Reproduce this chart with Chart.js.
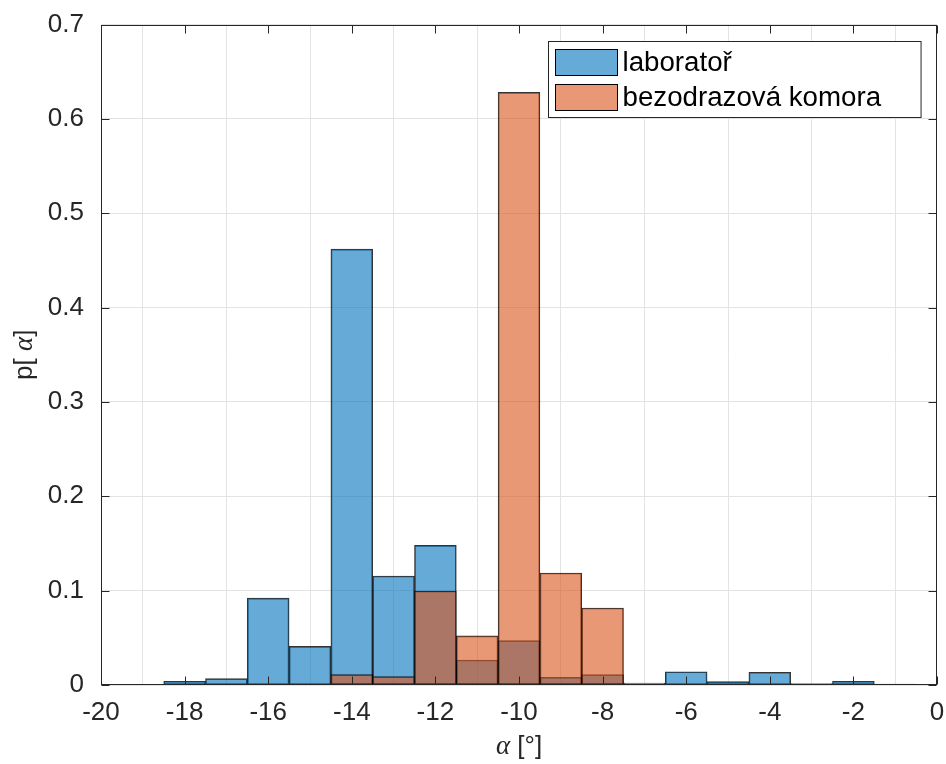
<!DOCTYPE html>
<html>
<head>
<meta charset="utf-8">
<script src="https://cdn.jsdelivr.net/npm/chart.js@4"></script>
<style>
  html, body { margin: 0; padding: 0; background: #fff; }
  canvas { display: block; }
</style>
</head>
<body>
<canvas id="histChart" width="946" height="764"></canvas>
<script>
"use strict";

// bin centres (bin width 1°)
const binCenters = [-18, -17, -16, -15, -14, -13, -12, -11, -10, -9, -8, -7, -6, -5, -4, -3, -2, -1];
const labValues = [0.004, 0.0067, 0.092, 0.041, 0.462, 0.1155, 0.148, 0.0265, 0.047, 0.008, 0.011, 0.002, 0.014, 0.0035, 0.0135, 0.0014, 0.004, 0.001];
const chamberValues = [null, null, null, null, 0.011, 0.0088, 0.0996, 0.052, 0.628, 0.1187, 0.0816, null, null, null, null, null, null, null];
const seriesLabels = ["laboratoř", "bezodrazová komora"];
const xTitle = ["α", " [°]"];
const yTitle = ["p[ ", "α", "]"];

const SANS = '"Liberation Sans", Arial, Helvetica, sans-serif';
const SERIF = '"Liberation Serif", "DejaVu Serif", serif';
const TEXT = "#262626";
const fills = ["rgba(0,114,189,0.6)", "rgba(217,83,25,0.6)"];

function toPoints(values) {
  const pts = [];
  values.forEach((v, i) => {
    if (v !== null) pts.push({ x: binCenters[i], y: v });
  });
  return pts;
}

function drawParts(ctx, parts, cx, baseline) {
  let total = 0;
  parts.forEach(p => { ctx.font = p.font; total += ctx.measureText(p.text).width; });
  let x = cx - total / 2;
  parts.forEach(p => {
    ctx.font = p.font;
    ctx.fillText(p.text, x, baseline);
    x += ctx.measureText(p.text).width;
  });
}

// box, inward ticks, titles and legend drawn the MATLAB way
const axesDecor = {
  id: "axesDecor",
  afterDatasetsDraw(chart) {
    const { ctx, chartArea: a, scales } = chart;
    const len = 8;
    const L = Math.round(a.left) + 0.5, R = Math.round(a.right) - 0.5;
    const T = Math.round(a.top) + 0.5, B = Math.round(a.bottom) - 0.5;
    ctx.save();
    ctx.strokeStyle = TEXT;
    ctx.lineWidth = 1;
    ctx.beginPath();
    scales.x.ticks.forEach(t => {
      const px = Math.round(scales.x.getPixelForValue(t.value)) + 0.5;
      ctx.moveTo(px, B); ctx.lineTo(px, B - len);
      ctx.moveTo(px, T); ctx.lineTo(px, T + len);
    });
    scales.y.ticks.forEach(t => {
      const py = Math.round(scales.y.getPixelForValue(t.value)) + 0.5;
      ctx.moveTo(L, py); ctx.lineTo(L + len, py);
      ctx.moveTo(R, py); ctx.lineTo(R - len, py);
    });
    ctx.stroke();
    ctx.strokeRect(L, T, R - L, B - T);
    ctx.restore();
  },
  afterDraw(chart) {
    const { ctx, chartArea: a } = chart;
    ctx.save();
    ctx.fillStyle = TEXT;
    ctx.textBaseline = "alphabetic";

    // x axis title
    drawParts(ctx, [
      { text: xTitle[0], font: "italic 27px " + SERIF },
      { text: xTitle[1], font: "26px " + SANS },
    ], (a.left + a.right) / 2, 754);

    // y axis title
    ctx.save();
    ctx.translate(32, (a.top + a.bottom) / 2);
    ctx.rotate(-Math.PI / 2);
    drawParts(ctx, [
      { text: yTitle[0], font: "26px " + SANS },
      { text: yTitle[1], font: "italic 27px " + SERIF },
      { text: yTitle[2], font: "26px " + SANS },
    ], 0, 0);
    ctx.restore();

    // legend
    const font = "27.7px " + SANS;
    ctx.font = font;
    const textW = Math.max(...seriesLabels.map(s => ctx.measureText(s).width));
    const w = 74 + textW + 40, h = 76;
    const left = Math.round(a.right - 16 - w) + 0.5, top = Math.round(a.top + 16) + 0.5;
    ctx.fillStyle = "#fff";
    ctx.fillRect(left, top, w, h);
    ctx.strokeStyle = TEXT;
    ctx.lineWidth = 1;
    ctx.strokeRect(left, top, w, h);
    const rows = [21, 56];
    seriesLabels.forEach((label, i) => {
      const cy = top + rows[i];
      ctx.fillStyle = fills[i];
      ctx.fillRect(left + 7, cy - 13, 62, 26);
      ctx.strokeStyle = "#000";
      ctx.strokeRect(left + 7, cy - 13, 62, 26);
      ctx.fillStyle = "#000";
      ctx.font = font;
      ctx.textBaseline = "middle";
      ctx.fillText(label, left + 74, cy + 1);
    });
    ctx.restore();
  },
};

// fixed plot box; tick label overflow handled by layout padding
function fixScale(size) {
  return function (scale) {
    if (scale.isHorizontal()) scale.height = size;
    else scale.width = size;
    scale.paddingLeft = 0;
    scale.paddingRight = 0;
    scale.paddingTop = 0;
    scale.paddingBottom = 0;
  };
}

const ctx = document.getElementById("histChart").getContext("2d");
new Chart(ctx, {
  type: "bar",
  data: {
    datasets: [
      {
        label: seriesLabels[0],
        data: toPoints(labValues),
        backgroundColor: fills[0],
        order: 1,
      },
      {
        label: seriesLabels[1],
        data: toPoints(chamberValues),
        backgroundColor: fills[1],
        order: 0,
      },
    ],
  },
  options: {
    responsive: false,
    animation: false,
    layout: { padding: { top: 24.5, right: 9, left: 0, bottom: 0 } },
    datasets: {
      bar: {
        grouped: false,
        barPercentage: 1.0,
        categoryPercentage: 1.0,
        borderWidth: 1,
        borderColor: "rgba(0,0,0,0.8)",
        borderSkipped: false,
      },
    },
    plugins: {
      legend: { display: false },
      tooltip: { enabled: false },
    },
    scales: {
      x: {
        type: "linear",
        min: -20,
        max: 0,
        offset: false,
        ticks: {
          stepSize: 2,
          color: TEXT,
          padding: 12,
          maxRotation: 0,
          font: { family: SANS, size: 26 },
        },
        grid: { color: "#e3e3e3", drawTicks: false },
        border: { display: false },
        afterFit: fixScale(79),
      },
      y: {
        min: 0,
        max: 0.7,
        ticks: {
          stepSize: 0.1,
          color: TEXT,
          padding: 17,
          font: { family: SANS, size: 26 },
        },
        grid: { color: "#e3e3e3", drawTicks: false },
        border: { display: false },
        afterFit: fixScale(101),
      },
    },
  },
  plugins: [axesDecor],
});
</script>
</body>
</html>
